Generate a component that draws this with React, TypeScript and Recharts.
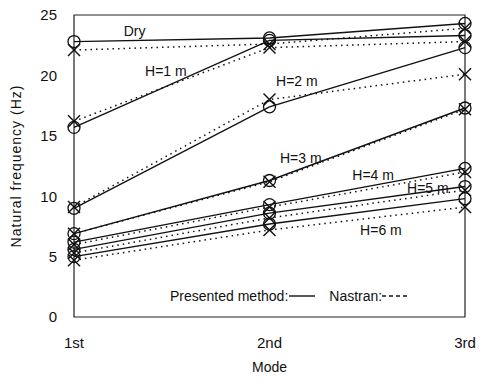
import React from "react";
import {
  LineChart,
  Line,
  XAxis,
  YAxis,
  ReferenceArea,
  ReferenceDot,
} from "recharts";

// modes on the x axis (1st, 2nd, 3rd)
const modes = [1, 2, 3];
const modeLabels = ["1st", "2nd", "3rd"];
const yTicks = [0, 5, 10, 15, 20, 25];

// presented method (solid, circles) vs Nastran (dotted, crosses)
const dryPresented = [22.8, 23.1, 24.3];
const dryNastran = [22.1, 22.6, 23.9];
const h1Presented = [15.7, 22.9, 23.3];
const h1Nastran = [16.2, 22.3, 22.8];
const h2Presented = [9.0, 17.4, 22.3];
const h2Nastran = [9.1, 18.0, 20.1];
const h3Presented = [6.9, 11.3, 17.3];
const h3Nastran = [6.9, 11.2, 17.2];
const h4Presented = [6.2, 9.3, 12.3];
const h4Nastran = [6.0, 9.1, 12.0];
const h5Presented = [5.6, 8.6, 10.8];
const h5Nastran = [5.3, 8.2, 10.5];
const h6Presented = [5.0, 7.7, 9.8];
const h6Nastran = [4.7, 7.2, 9.1];

const seriesKeys = ["dry", "h1", "h2", "h3", "h4", "h5", "h6"];
const presented = [dryPresented, h1Presented, h2Presented, h3Presented, h4Presented, h5Presented, h6Presented];
const nastran = [dryNastran, h1Nastran, h2Nastran, h3Nastran, h4Nastran, h5Nastran, h6Nastran];

// curve labels, placed in data coordinates
const curveLabels = [
  { text: "Dry", m: 1.31, v: 23.7 },
  { text: "H=1 m", m: 1.47, v: 20.4 },
  { text: "H=2 m", m: 2.14, v: 19.5 },
  { text: "H=3 m", m: 2.16, v: 13.2 },
  { text: "H=4 m", m: 2.53, v: 11.75 },
  { text: "H=5 m", m: 2.81, v: 10.7 },
  { text: "H=6 m", m: 2.57, v: 7.2 },
];

const FONT = "'Liberation Sans', Arial, sans-serif";

const data = modes.map((m, i) => {
  const row: Record<string, number> = { m };
  seriesKeys.forEach((k, s) => {
    row[k + "P"] = presented[s][i];
    row[k + "N"] = nastran[s][i];
  });
  return row;
});

const CircleDot = (props: any) => {
  const { cx, cy } = props;
  if (cx == null || cy == null) return null;
  return <circle cx={cx} cy={cy} r={6} fill="none" stroke="#111" strokeWidth={1.3} />;
};

const CrossDot = (props: any) => {
  const { cx, cy } = props;
  if (cx == null || cy == null) return null;
  const s = 6;
  return (
    <g stroke="#111" strokeWidth={1.4}>
      <line x1={cx - s} y1={cy - s} x2={cx + s} y2={cy + s} />
      <line x1={cx - s} y1={cy + s} x2={cx + s} y2={cy - s} />
    </g>
  );
};

const LegendBox = () => (
  <div
    style={{
      position: "absolute",
      left: 170,
      top: 288,
      fontFamily: FONT,
      fontSize: 14,
      color: "#111",
      display: "flex",
      alignItems: "center",
    }}
  >
    <span>Presented method:</span>
    <svg width={28} height={8} style={{ marginLeft: 1 }}>
      <line x1={0} y1={4} x2={26} y2={4} stroke="#111" strokeWidth={1.4} />
    </svg>
    <span style={{ marginLeft: 12 }}>Nastran:</span>
    <svg width={30} height={8}>
      <line x1={0} y1={4} x2={28} y2={4} stroke="#111" strokeWidth={1.3} strokeDasharray="4 3" />
    </svg>
  </div>
);

export default function App() {
  return (
    <div style={{ position: "absolute", left: 0, top: 0, width: 485, height: 383, background: "#fff" }}>
      <LineChart width={485} height={383} data={data} margin={{ top: 15, right: 20, bottom: 0, left: 0 }}>
        <ReferenceArea x1={1} x2={3} y1={0} y2={25} fill="none" stroke="#222" strokeWidth={1.2} ifOverflow="visible" />
        <XAxis
          dataKey="m"
          type="number"
          domain={[1, 3]}
          ticks={modes}
          tickFormatter={(v: number) => modeLabels[v - 1]}
          height={66}
          axisLine={false}
          tickLine={false}
          tickMargin={14}
          tick={{ fill: "#111", fontSize: 15, fontFamily: FONT }}
          label={{ value: "Mode", position: "insideBottom", offset: 11, fill: "#111", fontSize: 14, fontFamily: FONT }}
        />
        <YAxis
          type="number"
          domain={[0, 25]}
          ticks={yTicks}
          width={74}
          axisLine={false}
          tickLine={false}
          tickMargin={11}
          tick={{ fill: "#111", fontSize: 15, fontFamily: FONT }}
          label={{
            value: "Natural frequency (Hz)",
            angle: -90,
            position: "insideLeft",
            offset: 16,
            style: { textAnchor: "middle", letterSpacing: 1 },
            fill: "#111",
            fontSize: 14,
            fontFamily: FONT,
          }}
        />
        {seriesKeys.map((k) => (
          <Line
            key={k + "N"}
            dataKey={k + "N"}
            type="linear"
            stroke="#111"
            strokeWidth={1.5}
            strokeDasharray="1.5 4"
            dot={<CrossDot />}
            activeDot={false}
            isAnimationActive={false}
          />
        ))}
        {seriesKeys.map((k) => (
          <Line
            key={k + "P"}
            dataKey={k + "P"}
            type="linear"
            stroke="#111"
            strokeWidth={1.4}
            dot={<CircleDot />}
            activeDot={false}
            isAnimationActive={false}
          />
        ))}
        {curveLabels.map((c) => (
          <ReferenceDot
            key={c.text}
            x={c.m}
            y={c.v}
            r={0}
            fill="none"
            stroke="none"
            label={{ value: c.text, position: "center", fill: "#111", fontSize: 14, fontFamily: FONT }}
          />
        ))}
      </LineChart>
      <LegendBox />
    </div>
  );
}
